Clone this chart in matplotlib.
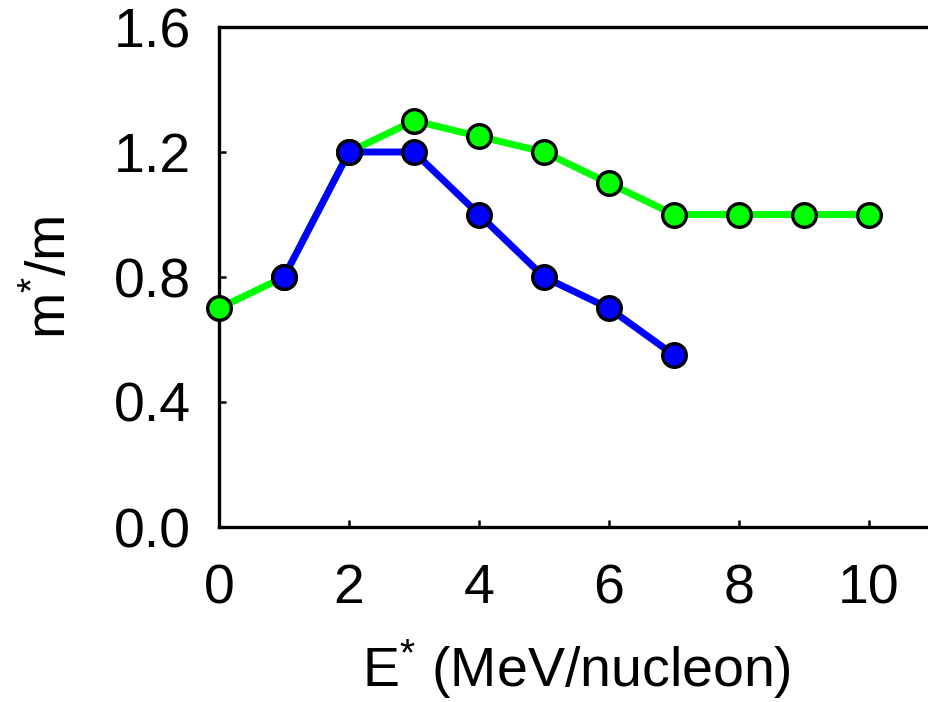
import matplotlib
matplotlib.use("Agg")
import matplotlib.pyplot as plt

plt.rcParams['font.family'] = ['Liberation Sans', 'DejaVu Sans']
plt.rcParams['mathtext.fontset'] = 'custom'
plt.rcParams['mathtext.rm'] = 'Liberation Sans'
plt.rcParams['mathtext.it'] = 'Liberation Sans'

green_x = [0, 1, 2, 3, 4, 5, 6, 7, 8, 9, 10]
green_y = [0.7, 0.8, 1.2, 1.3, 1.25, 1.2, 1.1, 1.0, 1.0, 1.0, 1.0]
blue_x = [1, 2, 3, 4, 5, 6, 7]
blue_y = [0.8, 1.2, 1.2, 1.0, 0.8, 0.7, 0.55]
xticks = [0, 2, 4, 6, 8, 10]
yticks = [0.0, 0.4, 0.8, 1.2, 1.6]

fig = plt.figure(figsize=(9.29, 7.02), dpi=100)
ax = fig.add_axes([219/929, (702-527)/702, 715/929, 500/702])

ax.plot(green_x, green_y, color='#00ff00', lw=5, marker='o', ms=17,
        mfc='#00ff00', mec='black', mew=2.4, clip_on=False, zorder=3)
ax.plot(blue_x, blue_y, color='#0000ff', lw=5, marker='o', ms=17,
        mfc='#0000ff', mec='black', mew=2.4, clip_on=False, zorder=4)

ax.set_xlim(0, 11)
ax.set_ylim(0, 1.6)
ax.set_xticks(xticks)
ax.set_yticks(yticks)
ax.set_xticklabels([str(t) for t in xticks])
ax.set_yticklabels([f"{t:.1f}" for t in yticks])
ax.tick_params(direction='in', length=5, width=1.8, labelsize=40)
ax.tick_params(axis='x', pad=26)
ax.tick_params(axis='y', pad=20)
for s in ax.spines.values():
    s.set_linewidth(2.4)

ax.set_xlabel(r'E$^{*}$ (MeV/nucleon)', fontsize=40, labelpad=16)
ax.set_ylabel(r'm$^{*}$/m', fontsize=40, labelpad=26)

fig.savefig('out.png', dpi=100)
